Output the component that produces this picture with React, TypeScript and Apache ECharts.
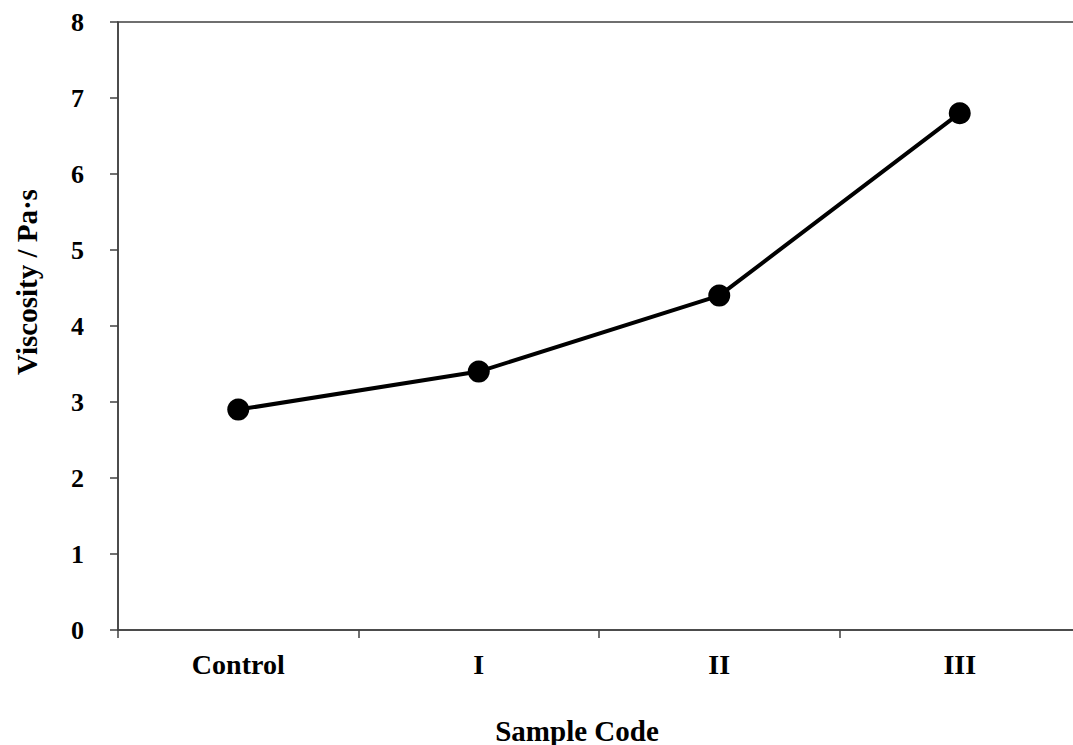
import React, { useEffect, useRef } from "react";
import * as echarts from "echarts";

const categories = ["Control", "I", "II", "III"];
const viscosity = [2.9, 3.4, 4.4, 6.8];
const yTicks = [0, 8, 1];
const xTitle = "Sample Code";
const yTitle = "Viscosity / Pa·s";

const FONT = "'Liberation Serif', 'Times New Roman', serif";

export default function App() {
  const ref = useRef<HTMLDivElement>(null);
  useEffect(() => {
    if (!ref.current) return;
    const chart = echarts.init(ref.current, null, { renderer: "svg" });
    chart.setOption({
      animation: false,
      backgroundColor: "#ffffff",
      grid: {
        left: 118,
        top: 22,
        width: 962,
        height: 608,
        show: true,
        borderColor: "#404040",
        borderWidth: 1.5,
        containLabel: false,
        outerBoundsMode: "none",
      },
      xAxis: {
        type: "category",
        data: categories,
        boundaryGap: true,
        name: xTitle,
        nameLocation: "middle",
        nameGap: 86,
        nameTextStyle: {
          fontFamily: FONT,
          fontWeight: "bold",
          fontSize: 29,
          color: "#000",
          padding: [0, 44, 0, 0],
        },
        axisLine: { lineStyle: { color: "#404040", width: 1.5 } },
        axisTick: { show: true, alignWithLabel: false, length: 8, lineStyle: { color: "#404040", width: 1.5 } },
        axisLabel: {
          fontFamily: FONT,
          fontWeight: "bold",
          fontSize: 28,
          color: "#000",
          margin: 20,
        },
        splitLine: { show: false },
      },
      yAxis: {
        type: "value",
        min: yTicks[0],
        max: yTicks[1],
        interval: yTicks[2],
        name: yTitle,
        nameLocation: "middle",
        nameGap: 77,
        nameRotate: 90,
        nameTextStyle: {
          fontFamily: FONT,
          fontWeight: "bold",
          fontSize: 29,
          color: "#000",
          padding: [0, 0, 0, 88],
        },
        axisLine: { show: true, lineStyle: { color: "#404040", width: 1.5 } },
        axisTick: { show: true, length: 8, lineStyle: { color: "#404040", width: 1.5 } },
        axisLabel: {
          fontFamily: FONT,
          fontWeight: "bold",
          fontSize: 26,
          color: "#000",
          margin: 34,
        },
        splitLine: { show: false },
      },
      series: [
        {
          type: "line",
          data: viscosity,
          symbol: "circle",
          symbolSize: 22,
          lineStyle: { color: "#000", width: 4 },
          itemStyle: { color: "#000" },
        },
      ],
    });
    return () => chart.dispose();
  }, []);
  return (
    <div
      ref={ref}
      style={{ position: "absolute", left: 0, top: 0, width: 1073, height: 745 }}
    />
  );
}
